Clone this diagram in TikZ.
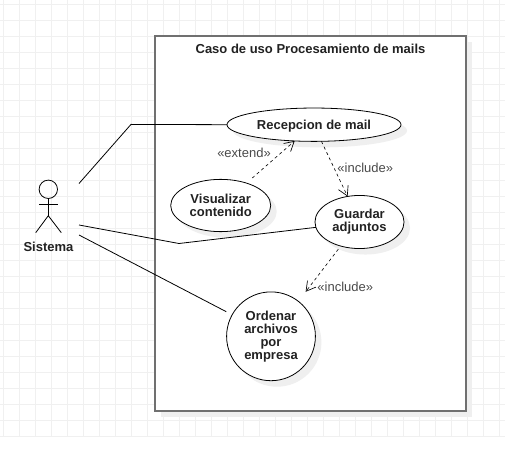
\documentclass[tikz,border=0pt]{standalone}
\usepackage{fontspec}
\setmainfont{Liberation Sans}
\usetikzlibrary{shapes.geometric,shadows,arrows.meta}
\definecolor{gridc}{HTML}{F0F0F0}
\definecolor{shadowc}{HTML}{EFEFEF}
\definecolor{framec}{HTML}{707070}
\definecolor{textc}{HTML}{222222}
\definecolor{labelc}{HTML}{4A4A4A}
\tikzset{
  x=.75pt,y=-.75pt,
  gridline/.style={gridc,line width=.75pt},
  softshadow/.style={general shadow={shadow xshift=4.5pt,shadow yshift=-4.5pt,fill=shadowc}},
  usecase/.style={ellipse,draw=black,line width=.6pt,fill=white,softshadow,inner sep=0pt,outer sep=0pt,
    align=center,font=\fontsize{9.75}{9.75}\selectfont\bfseries,text=textc,
    execute at begin node={\rule{0pt}{8.8pt}}},
  sysframe/.style={draw=framec,line width=1.2pt,fill=white,softshadow},
  titletext/.style={font=\fontsize{9.75}{11}\selectfont\bfseries,text=textc,inner sep=0pt},
  stereo/.style={font=\fontsize{9.75}{11}\selectfont,text=labelc,inner sep=0pt},
  assoc/.style={draw=black,line width=.6pt},
  dep/.style={draw=black,line width=.45pt,dash pattern=on 2.25pt off 2.25pt,-{Straight Barb[length=7pt,width=8pt,line width=.5pt]}},
  limb/.style={draw=black,line width=.6pt},
}
\begin{document}
\begin{tikzpicture}
\useasboundingbox (0,0) rectangle (505,459);
\fill[white] (0,0) rectangle (505,459);
\foreach \k in {0,...,31} {\draw[gridline] ({3.7+16*\k},0) -- ({3.7+16*\k},435.7);}
\foreach \k in {0,...,27} {\draw[gridline] (0,{4.3+16*\k}) -- (505,{4.3+16*\k});}
\path[sysframe] (155,36) rectangle (466,411);
\node[titletext] (title) at (310.5,48.5) {Caso de uso Procesamiento de mails};

\node[usecase,minimum width=130.5pt,minimum height=25pt] (rec) at (314,124.7) {Recepcion de mail};
\node[usecase,minimum width=75pt,minimum height=39.2pt] (vis) at (220.7,205.5) {Visualizar\\contenido};
\node[usecase,minimum width=66.8pt,minimum height=39.8pt] (gua) at (359.5,222) {Guardar\\adjuntos};
\node[usecase,minimum width=66.6pt,minimum height=66.6pt] (ord) at (271,336.3) {Ordenar\\archivos\\por\\empresa};

\draw[limb] (48.3,189.3) circle[radius=6.9pt];
\coordinate (neck) at (48.3,198.5);
\coordinate (hip) at (48.3,215.7);
\draw[limb] (neck) -- (hip);
\draw[limb] (39.3,204.3) -- (57.7,204.3);
\draw[limb] (35.7,232.7) -- (hip) -- (61.3,232.7);
\node[titletext] (sis) at (48.5,246.5) {Sistema};

\coordinate (a1) at (79,183.5);
\coordinate (b1) at (131,124.4);
\coordinate (a2) at (79,225);
\coordinate (b2) at (179,243.5);
\coordinate (a3) at (79,235);
\draw[assoc] (a1) -- (b1) -- (rec.180);
\draw[assoc] (a2) -- (b2) -- (gua.187);
\draw[assoc,shorten >=5pt] (a3) -- (ord.151.5);

\draw[dep,shorten <=5.8pt] (vis.41.3) -- (rec.220);
\draw[dep] (rec.294) -- (gua.115.4);
\draw[dep,shorten <=3pt,shorten >=9pt] (gua.232) -- (ord.52);

\node[stereo] (l1) at (244,153.3) {«extend»};
\node[stereo] (l2) at (365.3,167.5) {«include»};
\node[stereo] (l3) at (345.3,287.3) {«include»};
\end{tikzpicture}
\end{document}
